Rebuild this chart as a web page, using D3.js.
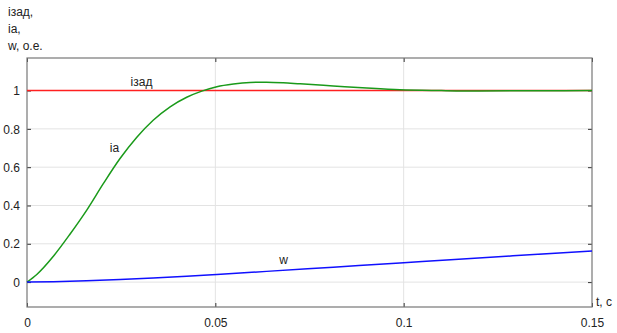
<!DOCTYPE html>
<html>
<head>
<meta charset="utf-8">
<script src="https://cdn.jsdelivr.net/npm/d3@7"></script>
<style>
  body { margin: 0; background: #fff; }
  svg { display: block; font-family: "Liberation Sans", Arial, sans-serif; }
</style>
</head>
<body>
<div id="chart"></div>
<script>
// ---- data ----
let xTicks = [0, 0.05, 0.1, 0.15];
let xTickLabels = ["0", "0.05", "0.1", "0.15"];
let yTicks = [0, 0.2, 0.4, 0.6, 0.8, 1];
let yTickLabels = ["0", "0.2", "0.4", "0.6", "0.8", "1"];

let tZad = [0, 0.15];
let iZad = [1, 1];

let tIa = [0, 0.0026, 0.007, 0.0114, 0.016, 0.0203, 0.0247, 0.0291, 0.0335, 0.038, 0.0424,
           0.0464, 0.0504, 0.0548, 0.0592, 0.0636, 0.068, 0.0725, 0.0813, 0.0902, 0.099,
           0.11, 0.12, 0.135, 0.15];
let ia  = [0, 0.04, 0.135, 0.25, 0.38, 0.515, 0.645, 0.755, 0.845, 0.915, 0.965,
           0.997, 1.02, 1.034, 1.042, 1.044, 1.041, 1.035, 1.024, 1.013, 1.004,
           1.0, 0.998, 0.999, 1.0];

let tW = [0, 0.007, 0.0158, 0.0247, 0.0335, 0.0424, 0.0504, 0.0636, 0.0813, 0.099, 0.1114, 0.129, 0.15];
let w  = [0, 0.002, 0.007, 0.014, 0.022, 0.031, 0.04, 0.056, 0.078, 0.1, 0.115, 0.137, 0.163];

// ---- layout ----
let margin = {top: 58, right: 25, bottom: 26, left: 27};
let width = 617 - margin.left - margin.right;
let height = 333 - margin.top - margin.bottom;

let svg = d3.select("#chart").append("svg")
    .attr("width", 617)
    .attr("height", 333);

let g = svg.append("g")
    .attr("transform", "translate(" + margin.left + "," + margin.top + ")");

let x = d3.scaleLinear().domain([0, 0.15]).range([0, width]);
let y = d3.scaleLinear().domain([-0.13, 1.17]).range([height, 0]);

// grid
g.append("g").selectAll("line").data(xTicks.slice(1, -1)).join("line")
    .attr("x1", d => x(d)).attr("x2", d => x(d))
    .attr("y1", 0).attr("y2", height)
    .attr("stroke", "#e3e3e3");
g.append("g").selectAll("line").data(yTicks).join("line")
    .attr("x1", 0).attr("x2", width)
    .attr("y1", d => y(d)).attr("y2", d => y(d))
    .attr("stroke", "#e3e3e3");

// axes with inner ticks
let xAxis = d3.axisBottom(x).tickValues(xTicks).tickSize(-4)
    .tickFormat((d, i) => xTickLabels[i]);
let xAxisTop = d3.axisTop(x).tickValues(xTicks).tickSize(-4).tickFormat("");
let yAxis = d3.axisLeft(y).tickValues(yTicks).tickSize(-4)
    .tickFormat((d, i) => yTickLabels[i]);
let yAxisRight = d3.axisRight(y).tickValues(yTicks).tickSize(-4).tickFormat("");

let gx = g.append("g").attr("transform", "translate(0," + height + ")").call(xAxis);
gx.selectAll("text").attr("dy", null).attr("y", 20);
g.append("g").call(xAxisTop);
let gy = g.append("g").call(yAxis);
gy.selectAll("text").attr("x", -7).attr("dy", "0.35em");
g.append("g").attr("transform", "translate(" + width + ",0)").call(yAxisRight);

g.selectAll(".domain").remove();
g.selectAll(".tick line").attr("stroke", "#333");
g.selectAll(".tick text").attr("fill", "#222").style("font-size", "12px");

// box
g.append("rect")
    .attr("width", width).attr("height", height)
    .attr("fill", "none").attr("stroke", "#777").attr("stroke-width", 1.2);

// lines
let line = d3.line().x(d => x(d[0])).y(d => y(d[1])).curve(d3.curveMonotoneX);

g.append("path")
    .datum(d3.zip(tZad, iZad))
    .attr("d", line)
    .attr("fill", "none").attr("stroke", "#ff2020").attr("stroke-width", 1.5);

g.append("path")
    .datum(d3.zip(tIa, ia))
    .attr("d", line)
    .attr("fill", "none").attr("stroke", "#1a9a1a").attr("stroke-width", 1.5);

g.append("path")
    .datum(d3.zip(tW, w))
    .attr("d", line)
    .attr("fill", "none").attr("stroke", "#1010ff").attr("stroke-width", 1.5);

// curve labels
g.append("text").attr("x", x(0.0275)).attr("y", y(1.025))
    .attr("fill", "#222").style("font-size", "12px").text("iзад");
g.append("text").attr("x", x(0.022)).attr("y", y(0.68))
    .attr("fill", "#222").style("font-size", "12px").text("ia");
g.append("text").attr("x", x(0.067)).attr("y", y(0.095))
    .attr("fill", "#222").style("font-size", "12px").text("w");

// axis titles
let yTitle = ["iзад,", "ia,", "w, o.e."];
svg.append("g").selectAll("text").data(yTitle).join("text")
    .attr("x", 8).attr("y", (d, i) => 16 + i * 17)
    .attr("fill", "#222").style("font-size", "12px")
    .text(d => d);

svg.append("text").attr("x", 596).attr("y", 306)
    .attr("fill", "#222").style("font-size", "12px").text("t, c");
</script>
</body>
</html>
